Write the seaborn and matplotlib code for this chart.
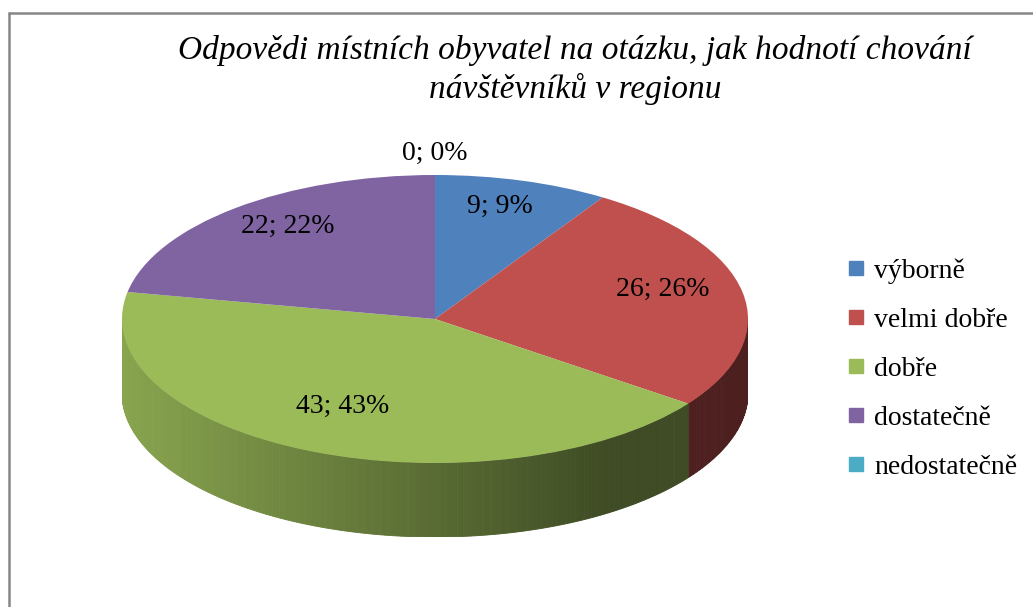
import numpy as np
import matplotlib
matplotlib.use("Agg")
import matplotlib.pyplot as plt
from matplotlib.patches import Polygon
from matplotlib.lines import Line2D
import seaborn as sns

# Data
categories = ["výborně", "velmi dobře", "dobře", "dostatečně", "nedostatečně"]
counts = [9, 26, 43, 22, 0]
percents = [9, 26, 43, 22, 0]
colors = ["#4f81bd", "#c0504d", "#9bbb59", "#8064a2", "#4bacc6"]
title = "Odpovědi místních obyvatel na otázku, jak hodnotí chování\nnávštěvníků v regionu"

sns.set_theme(style="white")
plt.rcParams['font.family'] = ['Liberation Serif', 'DejaVu Serif']
plt.rcParams['text.color'] = 'black'

W, H = 1033, 607
fig = plt.figure(figsize=(W / 100, H / 100), dpi=100)
fig.patch.set_facecolor("white")
palette = sns.color_palette(colors)

# pie axes: top ellipse + side wall (depth as fraction of vertical radius)
depth = 74 / 144
ax = fig.add_axes([122 / W, (H - 537) / H, 626 / W, 362 / H])
wedges, _ = ax.pie(counts, colors=palette, startangle=90, counterclock=False,
                   radius=1, center=(0, 0), wedgeprops=dict(linewidth=0))
ax.set_aspect('auto')
ax.set_xlim(-1, 1)
ax.set_ylim(-1 - depth, 1)
ax.axis('off')

# side wall of the 3D pie, shaded from light (left) to dark (right)
frac = np.array(counts) / sum(counts)
edges = np.concatenate([[0], np.cumsum(frac)]) * 360


def shade(x):
    return np.interp(x, [-1, 0.55, 1], [0.88, 0.40, 0.40])


for i, c in enumerate(palette):
    a0, a1 = max(edges[i], 90), min(edges[i + 1], 270)
    if a1 <= a0:
        continue
    ts = np.linspace(a0, a1, int(a1 - a0) * 2 + 2)
    for ta, tb in zip(ts[:-1], ts[1:]):
        ra, rb = np.radians([ta, tb])
        xa, ya, xb, yb = np.sin(ra), np.cos(ra), np.sin(rb), np.cos(rb)
        col = tuple(np.array(c) * shade((xa + xb) / 2))
        ax.add_patch(Polygon([(xa, ya), (xb, yb), (xb, yb - depth), (xa, ya - depth)],
                             closed=True, facecolor=col, edgecolor=col,
                             linewidth=0.6, zorder=0.5))

# data labels
mid = (edges[:-1] + edges[1:]) / 2
for i in range(len(counts)):
    t = np.radians(mid[i])
    if counts[i] > 0:
        x, y = 0.74 * np.sin(t), 0.74 * np.cos(t) + 0.07
    else:
        x, y = 1.15 * np.sin(t), 1.15 * np.cos(t)
    ax.text(x, y, f"{counts[i]}; {percents[i]}%",
            ha='center', va='center', fontsize=20, color='black')

# legend
handles = [Line2D([], [], marker='s', linestyle='none', markersize=10,
                  markerfacecolor=c, markeredgecolor=c) for c in palette]
fig.legend(handles, categories, loc='upper left',
           bbox_to_anchor=(845 / W, 1 - 258 / H), frameon=False,
           fontsize=20, labelspacing=0.85, handletextpad=0.25,
           handlelength=0.8, borderpad=0, borderaxespad=0,
           labelcolor='black')

# title
fig.text(575 / W, 1 - 70 / H, title, ha='center', va='center',
         style='italic', fontsize=24, linespacing=1.25, color='black')

# chart frame (left and top edges visible)
fig.add_artist(Line2D([9 / W, 9 / W], [0, 1 - 13 / H], transform=fig.transFigure,
                      color='#878787', lw=1.8))
fig.add_artist(Line2D([9 / W, 1], [1 - 13 / H, 1 - 13 / H], transform=fig.transFigure,
                      color='#878787', lw=1.8))

fig.savefig("out.png", dpi=100, facecolor="white")
